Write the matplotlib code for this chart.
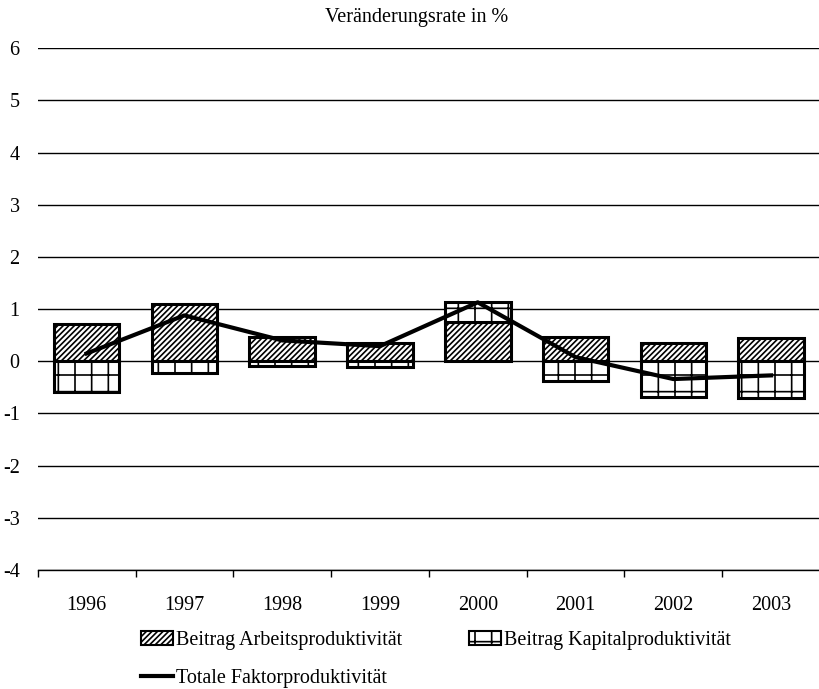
import numpy as np
import matplotlib.pyplot as plt
from matplotlib.lines import Line2D
from matplotlib.patches import Patch

plt.rcParams['font.family'] = ['Liberation Serif', 'DejaVu Serif']
plt.rcParams['hatch.linewidth'] = 1.2

years = ["1996", "1997", "1998", "1999", "2000", "2001", "2002", "2003"]
arbeit = [0.71, 1.09, 0.46, 0.36, 0.75, 0.46, 0.35, 0.44]
kapital = [-0.59, -0.23, -0.09, -0.10, 0.38, -0.38, -0.69, -0.71]
tfp = [0.15, 0.88, 0.40, 0.29, 1.13, 0.08, -0.34, -0.27]

x = np.arange(len(years))
arbeit = np.array(arbeit)
kapital = np.array(kapital)
# capital contribution stacks on top of labour when positive
kap_bottom = np.where(kapital > 0, arbeit, 0.0)

fig = plt.figure(figsize=(8.2, 6.89), dpi=100)
ax = fig.add_axes([0.046, 0.1727, 0.954, 0.7573])

fs = 14.5
w = 0.67
ax.bar(x, arbeit, w, color='white', edgecolor='black', linewidth=2.2, hatch='//////', zorder=3)
ax.bar(x, kapital, w, bottom=kap_bottom, color='white', edgecolor='black', linewidth=2.2, hatch='+', zorder=3)
ax.plot(x, tfp, color='black', linewidth=3, zorder=4)

ax.set_xlim(-0.5, len(years) - 0.5)
ax.set_ylim(-4, 6)
ax.set_yticks(range(-4, 7))
ax.set_yticklabels([str(v) for v in range(-4, 7)], fontsize=fs)
ax.yaxis.grid(True, color='black', linewidth=1.0, zorder=0)
ax.tick_params(axis='y', length=0, pad=13)

ax.set_xticks(x)
ax.set_xticklabels(years, fontsize=fs)
ax.set_xticks(np.arange(-0.5, len(years) - 0.5, 1.0), minor=True)
ax.tick_params(axis='x', which='major', length=0, pad=19)
ax.tick_params(axis='x', which='minor', length=5, width=1, direction='out')

for s in ['left', 'right', 'top']:
    ax.spines[s].set_visible(False)
ax.spines['bottom'].set_linewidth(1.0)

fig.text(0.508, 0.974, "Veränderungsrate in %", ha='center', va='center', fontsize=fs)

handles = [
    Patch(facecolor='white', edgecolor='black', hatch='//////', linewidth=1.5, label="Beitrag Arbeitsproduktivität"),
    Line2D([0], [0], color='black', linewidth=3, label="Totale Faktorproduktivität"),
    Patch(facecolor='white', edgecolor='black', hatch='+', linewidth=1.5, label="Beitrag Kapitalproduktivität"),
]
fig.legend(handles=handles, ncol=2, loc='upper left', bbox_to_anchor=(0.172, 0.084),
           frameon=False, fontsize=fs, handlelength=1.6, handletextpad=0.15,
           columnspacing=3.3, labelspacing=0.95, borderaxespad=0, borderpad=0)

fig.savefig("out.png", dpi=100)
